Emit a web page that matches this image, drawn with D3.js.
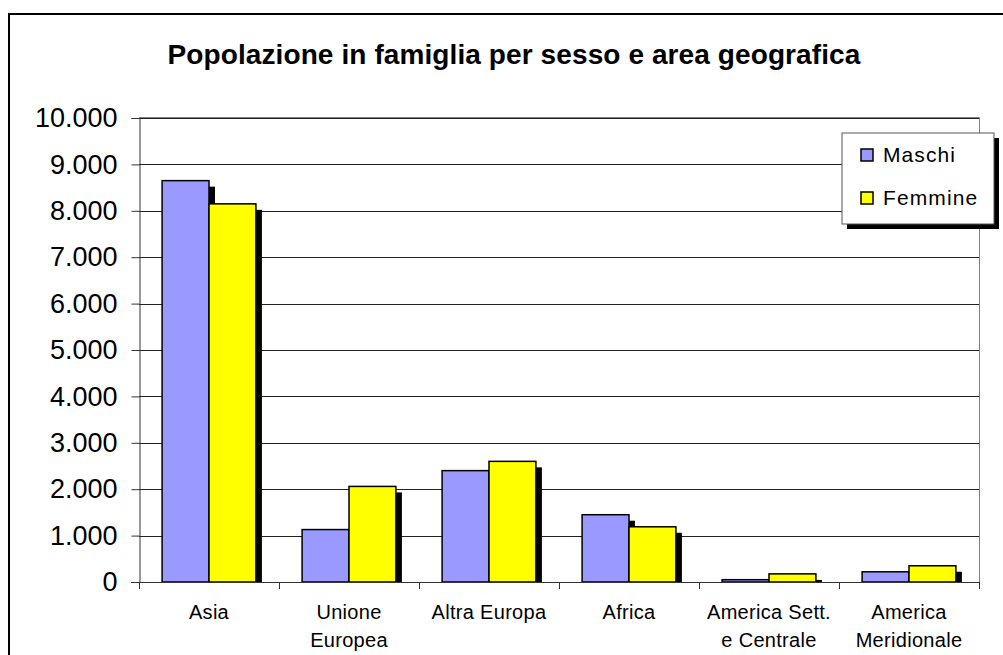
<!DOCTYPE html>
<html><head><meta charset="utf-8">
<script src="https://cdn.jsdelivr.net/npm/d3@7"></script>
<style>body{margin:0;background:#fff}svg{display:block;font-family:"Liberation Sans",Arial,sans-serif}</style>
</head><body>
<svg id="c" width="1003" height="655"></svg>
<script>
const categories = [["Asia"],["Unione","Europea"],["Altra Europa"],["Africa"],["America Sett.","e Centrale"],["America","Meridionale"]];
const seriesNames = ["Maschi","Femmine"];
const maschi = [8650, 1130, 2400, 1450, 50, 220];
const femmine = [8150, 2060, 2600, 1190, 175, 350];
const yTicks = [0,1000,2000,3000,4000,5000,6000,7000,8000,9000,10000];
const colors = ["#9999FF","#FFFF00"];

const svg = d3.select("#c");
const L = 139, R = 979, T = 118, B = 582;

// outer frame
svg.append("rect").attr("x",9).attr("y",14).attr("width",1020).attr("height",700)
  .attr("fill","none").attr("stroke","#000").attr("stroke-width",2);

// title
svg.append("text").attr("x",514).attr("y",64).attr("text-anchor","middle")
  .attr("font-size",28).attr("font-weight","bold").attr("letter-spacing",0.1)
  .text("Popolazione in famiglia per sesso e area geografica");

const x = d3.scaleBand().domain(d3.range(categories.length)).range([L,R]).paddingInner(0.33).paddingOuter(0.165);
const step = (R-L)/categories.length;
const xs = d3.scaleBand().domain(seriesNames).range([0,x.bandwidth()]);
const y = d3.scaleLinear().domain([0,10000]).range([B,T]);
const fmt = d3.formatLocale({decimal:",",thousands:".",grouping:[3]}).format(",d");

// plot border (gray)
svg.append("path").attr("d",`M${L},${T-0.5}H${R+0.5}V${B}`).attr("fill","none").attr("stroke","#808080").attr("stroke-width",1);

// gridlines
svg.append("g").selectAll("line").data(yTicks.filter(d=>d>0)).join("line")
  .attr("x1",L).attr("x2",R).attr("y1",d=>Math.round(y(d))+0.5).attr("y2",d=>Math.round(y(d))+0.5)
  .attr("stroke","#222").attr("stroke-width",1);

// bars with shadows
const data = [maschi, femmine];
svg.append("clipPath").attr("id","pc").append("rect").attr("x",L).attr("y",T-10).attr("width",R-L).attr("height",B-T+11);
const gb = svg.append("g").attr("clip-path","url(#pc)");
data.forEach((vals,si)=>{
  gb.append("g").selectAll("rect").data(vals).join("rect")
    .attr("x",(d,i)=>x(i)+xs(seriesNames[si])+6).attr("y",d=>y(d)+6)
    .attr("width",xs.bandwidth()).attr("height",d=>B-y(d)).attr("fill","#000");
});
data.forEach((vals,si)=>{
  gb.append("g").selectAll("rect").data(vals).join("rect")
    .attr("x",(d,i)=>x(i)+xs(seriesNames[si])).attr("y",d=>y(d))
    .attr("width",xs.bandwidth()).attr("height",d=>B-y(d)).attr("fill",colors[si])
    .attr("stroke","#000").attr("stroke-width",1.5);
});

// y axis
const ya = svg.append("g").attr("transform",`translate(${L+0.5},0)`)
  .call(d3.axisLeft(y).tickValues(yTicks).tickFormat(fmt).tickSize(8).tickPadding(14));
ya.select(".domain").attr("stroke","#333");
ya.selectAll(".tick line").attr("stroke","#333");
ya.selectAll("text").attr("font-size",27).attr("font-family","'Liberation Sans',Arial,sans-serif").attr("fill","#000");

// x axis baseline and ticks
svg.append("line").attr("x1",L-8).attr("x2",R).attr("y1",B+0.5).attr("y2",B+0.5).attr("stroke","#333");
svg.append("g").selectAll("line").data(d3.range(categories.length+1)).join("line")
  .attr("x1",i=>Math.round(L+i*step)+0.5).attr("x2",i=>Math.round(L+i*step)+0.5)
  .attr("y1",B).attr("y2",B+7).attr("stroke","#333");

// x labels
const xl = svg.append("g").selectAll("text").data(categories).join("text")
  .attr("x",(d,i)=>x(i)+x.bandwidth()/2).attr("y",619).attr("text-anchor","middle")
  .attr("font-size",20).attr("letter-spacing",0.3);
xl.each(function(d){
  d3.select(this).selectAll("tspan").data(d).join("tspan")
    .attr("x",d3.select(this).attr("x")).attr("dy",(t,j)=>j===0?0:28).text(t=>t);
});

// legend
const lg = svg.append("g");
lg.append("rect").attr("x",847).attr("y",138).attr("width",152).attr("height",91).attr("fill","#000");
lg.append("rect").attr("x",842).attr("y",133).attr("width",152).attr("height",91).attr("fill","#fff").attr("stroke","#555").attr("stroke-width",1);
seriesNames.forEach((n,i)=>{
  lg.append("rect").attr("x",861).attr("y",149+i*43).attr("width",12).attr("height",12)
    .attr("fill",colors[i]).attr("stroke","#000").attr("stroke-width",1.5);
  lg.append("text").attr("x",883).attr("y",162+i*43).attr("font-size",21).attr("letter-spacing",1.1).text(n);
});
</script>
</body></html>
